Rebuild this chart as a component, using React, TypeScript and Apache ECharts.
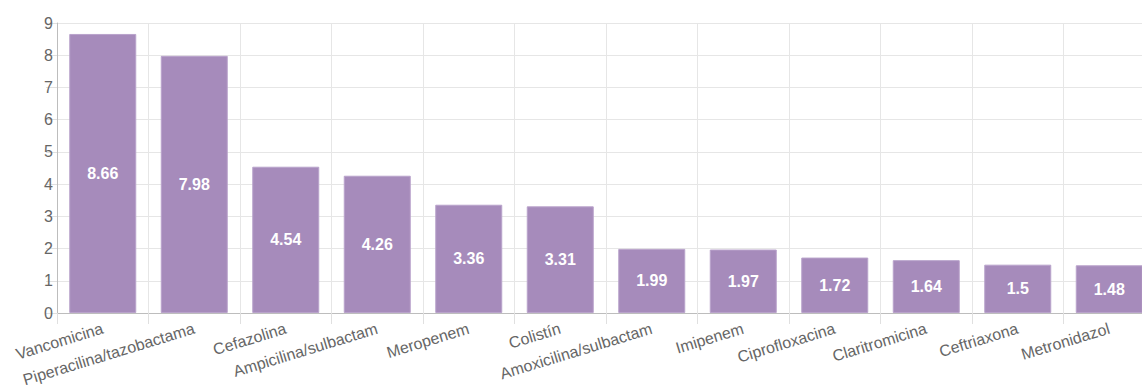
import React, { useEffect, useRef } from "react";
import * as echarts from "echarts";

const categories = [
  "Vancomicina",
  "Piperacilina/tazobactama",
  "Cefazolina",
  "Ampicilina/sulbactam",
  "Meropenem",
  "Colistín",
  "Amoxicilina/sulbactam",
  "Imipenem",
  "Ciprofloxacina",
  "Claritromicina",
  "Ceftriaxona",
  "Metronidazol",
];
const values = [8.66, 7.98, 4.54, 4.26, 3.36, 3.31, 1.99, 1.97, 1.72, 1.64, 1.5, 1.48];
const yTicks = { min: 0, max: 9, interval: 1 };

const FONT = "'Liberation Sans', Arial, Helvetica, sans-serif";

export default function App() {
  const ref = useRef<HTMLDivElement>(null);
  useEffect(() => {
    if (!ref.current) return;
    const chart = echarts.init(ref.current, null, { renderer: "svg" });
    chart.setOption({
      animation: false,
      grid: { left: 57, right: -13, top: 23, bottom: 79, containLabel: false, outerBoundsMode: "none" },
      xAxis: {
        type: "category",
        data: categories,
        boundaryGap: true,
        axisLine: { show: true, lineStyle: { color: "#bdbdbd", width: 1 } },
        axisTick: { show: true, length: 11, alignWithLabel: false, lineStyle: { color: "#e0e0e0" } },
        splitLine: { show: true, lineStyle: { color: "#e6e6e6" } },
        axisLabel: {
          rotate: 17,
          interval: 0,
          margin: 15,
          color: "#666",
          fontSize: 16,
          fontFamily: FONT,
        },
      },
      yAxis: {
        type: "value",
        min: yTicks.min,
        max: yTicks.max,
        interval: yTicks.interval,
        axisLine: { show: true, lineStyle: { color: "#bdbdbd" } },
        axisTick: { show: true, length: 11, lineStyle: { color: "#e0e0e0" } },
        splitLine: { show: true, lineStyle: { color: "#e6e6e6" } },
        axisLabel: { color: "#666", fontSize: 16, fontFamily: FONT, margin: 4 },
      },
      series: [
        {
          type: "bar",
          data: values,
          barWidth: 67,
          itemStyle: { color: "#a68bbb", borderColor: "#b9a3cb", borderWidth: 1 },
          label: {
            show: true,
            position: "inside",
            color: "#fff",
            fontWeight: "bold",
            fontSize: 16,
            fontFamily: FONT,
          },
        },
      ],
    });
    return () => chart.dispose();
  }, []);
  return (
    <div
      ref={ref}
      style={{ position: "fixed", left: 0, top: 0, width: 1142, height: 392, background: "#fff" }}
    />
  );
}
